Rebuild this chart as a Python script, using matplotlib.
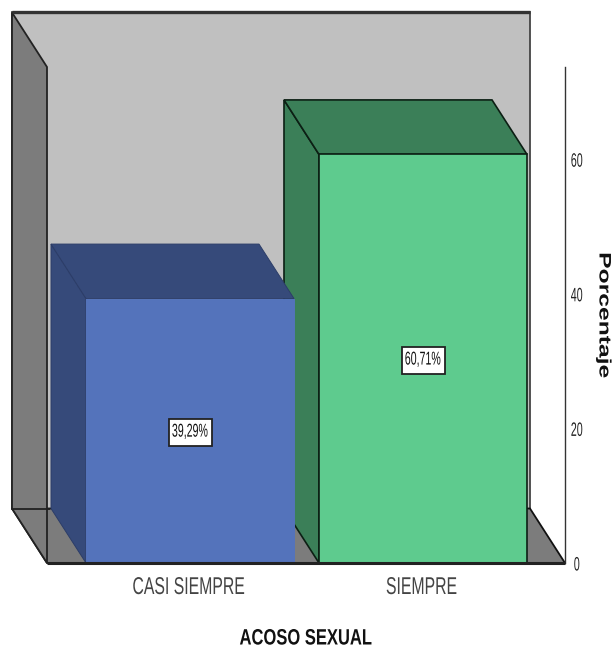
import matplotlib
matplotlib.use("Agg")
import matplotlib.pyplot as plt
from matplotlib.patches import Polygon, Rectangle
from matplotlib.patheffects import AbstractPathEffect
from matplotlib.transforms import Affine2D

categories = ["CASI SIEMPRE", "SIEMPRE"]
values = [39.29, 60.71]
labels = ["39,29%", "60,71%"]
yticks = [0, 20, 40, 60]
xlabel = "ACOSO SEXUAL"
ylabel = "Porcentaje"

plt.rcParams["font.family"] = "Liberation Sans"


class Stretch(AbstractPathEffect):
    """Condense or widen real text along its run, about its centre."""

    def __init__(self, sx):
        super().__init__()
        self.sx = sx

    def draw_path(self, renderer, gc, tpath, affine, rgbFace=None):
        w = tpath.get_extents().x1
        t = Affine2D().translate(-w / 2, 0).scale(self.sx, 1).translate(w / 2, 0) + affine
        renderer.draw_path(gc, tpath, t, rgbFace)


W, H = 614, 649
PX_X, PX_Y = 233.0, 6.73
X0_PX, Y0_PX = 190.0, 563.0
fig = plt.figure(figsize=(W / 100, H / 100), dpi=100)
ax = fig.add_axes([0, 0, 1, 1])
ax.set_xlim(-X0_PX / PX_X, (W - X0_PX) / PX_X)
ax.set_ylim((Y0_PX - H) / PX_Y, Y0_PX / PX_Y)
ax.axis("off")

DX = -35 / PX_X
DY = 54.5 / PX_Y
YMAX = 73.7
left = (47 - X0_PX) / PX_X
right = (565 - X0_PX) / PX_X
WALL, SIDE = "#c0c0c0", "#7c7c7c"


def poly(pts, fc, ec="#111111", lw=1.3, z=1):
    ax.add_patch(Polygon(pts, closed=True, fc=fc, ec=ec, lw=lw, zorder=z, joinstyle="miter"))


# Back wall, floor, left wall
poly([(left + DX, DY), (right + DX, DY), (right + DX, YMAX + DY), (left + DX, YMAX + DY)], WALL, ec="#444444", z=1)
poly([(left + DX, DY), (right + DX, DY), (right, 0), (left, 0)], SIDE, z=2)
poly([(left + DX, DY), (left, 0), (left, YMAX), (left + DX, YMAX + DY)], SIDE, ec="#222222", z=2)
ax.plot([left + DX, left + 3 / PX_X], [DY, DY], color="#222222", lw=1.3, zorder=3, solid_capstyle="butt")
ax.plot([left + DX, right + DX], [YMAX + DY] * 2, color="#333333", lw=2.4, zorder=3, solid_capstyle="butt")
ax.plot([left, right], [0, 0], color="#222222", lw=2.2, zorder=8, solid_capstyle="butt")

# Bars: the first bar stands in front of the second one's side face
width = 208 / PX_X
colors = [("#5473bb", "#364a7a", "#2c3d68", 0.7), ("#5ecb8e", "#3b7f58", "#0c1f14", 1.2)]
for i, (v, (front, dark, edge, lw)) in enumerate(zip(values, colors)):
    x0, x1 = i - width / 2, i + width / 2
    z = 5 - i
    poly([(x0 + DX, DY), (x0, 0), (x0, v), (x0 + DX, v + DY)], dark, ec=edge, lw=lw, z=z)
    poly([(x0 + DX, v + DY), (x1 + DX, v + DY), (x1, v), (x0, v)], dark, ec=edge, lw=lw, z=z)
    poly([(x0, 0), (x1, 0), (x1, v), (x0, v)], front, ec=front if i == 0 else edge, lw=lw, z=z)

    cy = v / 2 - 0.2
    bw, bh = 43 / PX_X, 27 / PX_Y
    ax.add_patch(Rectangle((i - bw / 2, cy - bh / 2), bw, bh, fc="white", ec="#222222", lw=1.3, zorder=9))
    ax.text(i, cy, labels[i], ha="center", va="center", fontsize=13.4, color="#111111", zorder=10,
            path_effects=[Stretch(0.57)])
    ax.text(i - 1.5 / PX_X, (Y0_PX - 588) / PX_Y, categories[i], ha="center", va="center", fontsize=17.5,
            color="#444444", path_effects=[Stretch(0.65)])

# Value axis
ax.plot([right, right], [0, YMAX], color="#333333", lw=1, zorder=3)
for t in yticks:
    ax.text(right + 12 / PX_X, t - 3 / PX_Y, str(t), ha="center", va="center", fontsize=14, color="#222222",
            path_effects=[Stretch(0.55)])

ax.text((306 - X0_PX) / PX_X, (Y0_PX - 639) / PX_Y, xlabel, ha="center", va="center", fontsize=16,
        weight="bold", color="#111111", path_effects=[Stretch(0.745)])
ax.text((604 - X0_PX) / PX_X, (Y0_PX - 315) / PX_Y, ylabel, ha="center", va="center", rotation=270,
        fontsize=12, weight="bold", color="#111111", path_effects=[Stretch(1.48)])

fig.savefig("out.png", dpi=100, facecolor="white")
